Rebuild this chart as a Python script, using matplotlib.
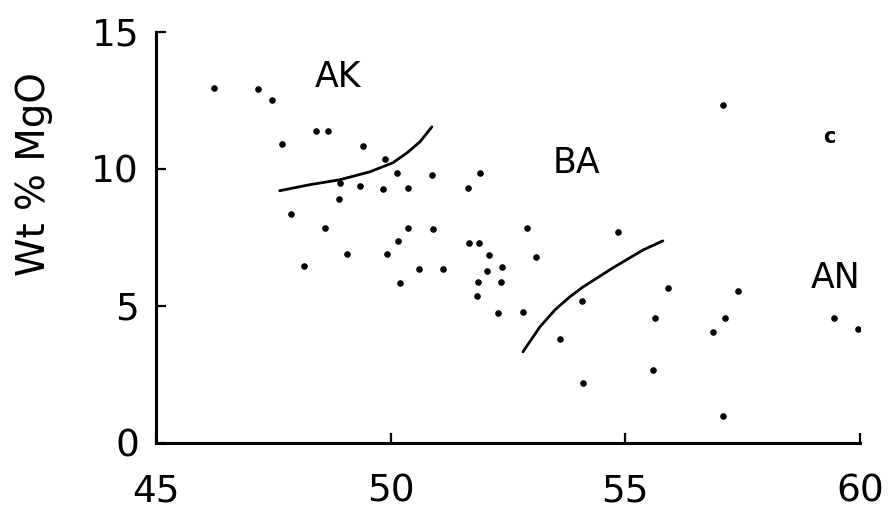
import matplotlib
matplotlib.use("Agg")
import matplotlib.pyplot as plt

# SiO2 (wt %) vs MgO (wt %) - scatter
sio2 = [46.24, 47.17, 47.47, 48.41, 48.66, 47.68, 49.41, 49.88, 50.14, 50.88,
        48.92, 49.35, 49.84, 50.37, 48.90, 47.88, 48.60, 50.37, 50.90, 50.16,
        49.07, 49.92, 48.15, 50.20, 50.60, 51.12, 51.90, 51.65, 52.91, 54.84,
        51.67, 51.88, 52.10, 53.10, 52.05, 52.37, 51.86, 52.35, 51.84, 52.29,
        52.82, 54.08, 53.61, 54.10, 55.91, 55.63, 55.59, 57.40, 57.12, 56.87,
        57.08, 59.45, 59.96, 57.08]
mgo = [12.96, 12.92, 12.52, 11.39, 11.39, 10.91, 10.84, 10.36, 9.85, 9.78,
       9.49, 9.38, 9.27, 9.31, 8.91, 8.36, 7.85, 7.85, 7.81, 7.37,
       6.90, 6.90, 6.46, 5.84, 6.35, 6.35, 9.85, 9.31, 7.85, 7.70,
       7.30, 7.30, 6.86, 6.79, 6.28, 6.42, 5.88, 5.88, 5.36, 4.74,
       4.78, 5.18, 3.80, 2.19, 5.66, 4.56, 2.66, 5.55, 4.56, 4.05,
       0.99, 4.56, 4.16, 12.34]

# boundary curves
ak_x = [47.64, 48.28, 48.92, 49.56, 50.05, 50.35, 50.63, 50.88]
ak_y = [9.20, 9.42, 9.60, 9.89, 10.22, 10.58, 10.99, 11.53]
ba_x = [52.82, 53.18, 53.50, 53.82, 54.10, 54.74, 55.38, 55.80]
ba_y = [3.32, 4.23, 4.85, 5.33, 5.69, 6.39, 7.04, 7.37]

# field labels
fields = ["AK", "BA", "AN"]
field_x = [48.88, 53.95, 59.47]
field_y = [13.36, 10.22, 6.02]

xticks = [45, 50, 55, 60]
yticks = [0, 5, 10, 15]

fig = plt.figure(figsize=(8.95, 5.21), dpi=100)
ax = fig.add_axes([0.174, 0.150, 0.787, 0.789])

ax.scatter(sio2, mgo, s=14, color="black", zorder=3)
ax.plot(ak_x, ak_y, color="black", lw=2, solid_capstyle="round")
ax.plot(ba_x, ba_y, color="black", lw=2, solid_capstyle="round")

for name, fx, fy in zip(fields, field_x, field_y):
    ax.text(fx, fy, name, fontsize=25, ha="center", va="center")
ax.text(59.34, 11.17, "c", fontsize=15, fontweight="bold", ha="center", va="center")

ax.set_xlim(45, 60)
ax.set_ylim(0, 15)
ax.set_xticks(xticks)
ax.set_yticks(yticks)
ax.tick_params(direction="in", length=7, width=1.6, labelsize=27)
ax.tick_params(axis="x", pad=22)
ax.tick_params(axis="y", pad=12)

for side in ["top", "right"]:
    ax.spines[side].set_visible(False)
for side in ["left", "bottom"]:
    ax.spines[side].set_linewidth(2.2)

fig.text(0.038, 0.665, "Wt % MgO", rotation=90, fontsize=28,
         ha="center", va="center")

fig.savefig("out.png", dpi=100)
